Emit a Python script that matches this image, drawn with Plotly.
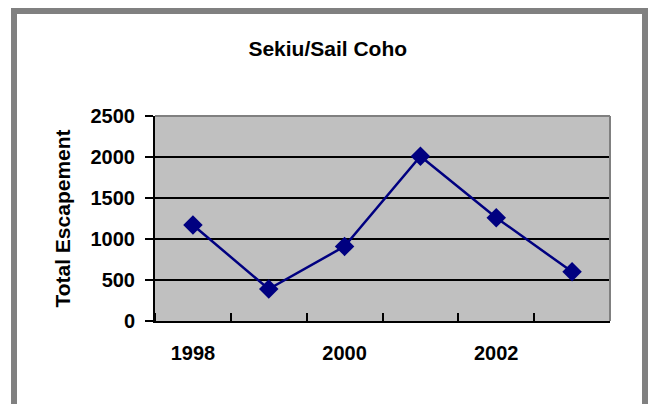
import plotly.graph_objects as go

# Data
years = [1998, 1999, 2000, 2001, 2002, 2003]
escapement = [1170, 390, 910, 2010, 1260, 600]
label_years = [1998, 2000, 2002]
y_ticks = [0, 500, 1000, 1500, 2000, 2500]

W, H = 649, 404
L, R, T, B = 155, 39, 116, 83
pw, ph = W - L - R, H - T - B

def px_x(px):
    return (px - L) / pw

def px_y(py):
    return (H - B - py) / ph

FONT = "Arial, Liberation Sans, sans-serif"
NAVY = "#000080"
FRAME = "#808080"

fig = go.Figure()
fig.add_trace(go.Scatter(
    x=years, y=escapement, mode="lines+markers",
    line=dict(color=NAVY, width=2.5),
    marker=dict(symbol="diamond", size=15, color=NAVY),
    showlegend=False, hoverinfo="x+y",
))

boundaries = [years[0] - 0.5 + i for i in range(len(years) + 1)]

fig.update_layout(
    width=W, height=H, autosize=False,
    margin=dict(l=L, r=R, t=T, b=B, pad=0),
    paper_bgcolor="white",
    plot_bgcolor="#C0C0C0",
    title=dict(text="Sekiu/Sail Coho", x=0.505, xref="container", xanchor="center",
               y=1 - 49 / H, yref="container", yanchor="middle",
               font=dict(family=FONT, size=21, color="black", weight="bold")),
    xaxis=dict(
        range=[years[0] - 0.5, years[-1] + 0.5],
        tickmode="array", tickvals=label_years, ticktext=[str(v) for v in label_years],
        ticks="", showgrid=False, zeroline=False,
        showline=True, linecolor="black", linewidth=2,
        tickfont=dict(family=FONT, size=20, color="black", weight="bold"),
        ticklabelstandoff=13,
        minor=dict(tickmode="array", tickvals=boundaries, ticks="inside",
                   ticklen=8, tickwidth=2, tickcolor="black", showgrid=False),
    ),
    yaxis=dict(
        range=[0, 2500], tickmode="array", tickvals=y_ticks,
        ticks="outside", ticklen=8, tickwidth=2, tickcolor="black",
        showgrid=True, gridcolor="black", gridwidth=2, zeroline=False,
        showline=True, linecolor="black", linewidth=2,
        tickfont=dict(family=FONT, size=20, color="black", weight="bold"),
        ticklabelstandoff=6,
        title=dict(text="Total Escapement", standoff=14,
                   font=dict(family=FONT, size=21, color="black", weight="bold")),
    ),
    shapes=[
        # outer gray frame
        dict(type="rect", xref="paper", yref="paper",
             x0=px_x(14), x1=px_x(645), y0=px_y(420), y1=px_y(11),
             line=dict(color=FRAME, width=6), fillcolor="rgba(0,0,0,0)", layer="below"),
        # plot area top and right border (gray)
        dict(type="line", xref="paper", yref="paper", x0=0, x1=1, y0=1, y1=1,
             line=dict(color=FRAME, width=2), layer="above"),
        dict(type="line", xref="paper", yref="paper", x0=1, x1=1, y0=0, y1=1,
             line=dict(color=FRAME, width=2), layer="above"),
    ],
)

fig.write_html(
    "out.html",
    config={"displayModeBar": False},
    post_script="document.body.style.margin='0';document.body.style.overflow='hidden';",
)
